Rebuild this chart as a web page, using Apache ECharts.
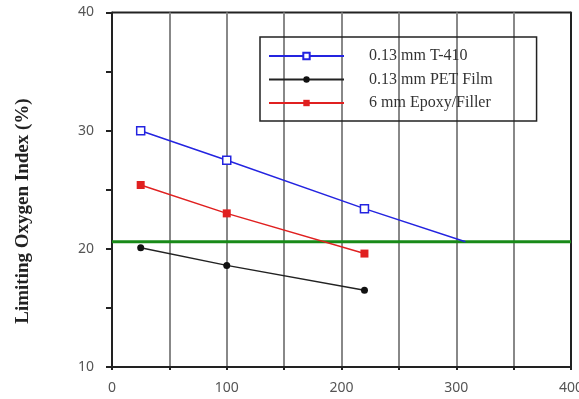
<!DOCTYPE html>
<html>
<head>
<meta charset="utf-8">
<script src="https://cdn.jsdelivr.net/npm/echarts@6/dist/echarts.min.js"></script>
<style>
  html, body { margin: 0; padding: 0; background: #fff; }
  #chart { width: 579px; height: 399px; }
</style>
</head>
<body>
<div id="chart"></div>
<script>
// Sample values on the horizontal axis
var xValues = [25, 100, 220];
// Limiting oxygen index (%) per material
var t410Values = [30.0, 27.5, 23.4];
var petValues = [20.1, 18.6, 16.5];
var epoxyValues = [25.4, 23.0, 19.6];
// Extension of the T-410 trend down to the ambient oxygen level
var t410Extension = [308, 20.6];
// Ambient oxygen level (%)
var ambientLevel = 20.6;
var seriesNames = ['0.13 mm T-410', '0.13 mm PET Film', '6 mm Epoxy/Filler'];
var yTitle = 'Limiting Oxygen Index (%)';

function pairs(xs, ys) {
  return xs.map(function (x, i) { return [x, ys[i]]; });
}

var t410Data = pairs(xValues, t410Values);
t410Data.push({ value: t410Extension, symbol: 'none' });

var chart = echarts.init(document.getElementById('chart'));
var serif = '"Liberation Serif", "Times New Roman", serif';
var sans = '"Noto Sans", "DejaVu Sans", sans-serif';

chart.setOption({
  animation: false,
  grid: { left: 112, right: 8, top: 12.5, bottom: 32, show: false, outerBoundsMode: 'none', containLabel: false },
  legend: {
    orient: 'vertical',
    left: 260,
    top: 37,
    data: seriesNames,
    itemWidth: 75,
    itemHeight: 8,
    itemGap: 7.5,
    padding: [11, 44, 10, 8],
    borderColor: '#222',
    borderWidth: 1.5,
    textStyle: { fontFamily: serif, fontSize: 16, color: '#333', padding: [0, 0, 0, 20] }
  },
  xAxis: {
    type: 'value',
    min: 0,
    max: 400,
    interval: 50,
    axisLine: { lineStyle: { color: '#222', width: 2 } },
    axisTick: { show: true, length: 3, lineStyle: { color: '#222', width: 2 } },
    splitLine: { show: true, lineStyle: { color: '#888', width: 2 } },
    axisLabel: {
      fontFamily: sans, fontSize: 14, color: '#555', margin: 14,
      formatter: function (v) { return v % 100 === 0 ? String(v) : ''; }
    }
  },
  yAxis: [{
    type: 'value',
    min: 10,
    max: 40,
    interval: 5,
    axisLine: { show: true, lineStyle: { color: '#222', width: 2 } },
    axisTick: { show: true, length: 6, lineStyle: { color: '#222', width: 2 } },
    splitLine: { show: false },
    axisLabel: {
      fontFamily: sans, fontSize: 14, color: '#555', margin: 18,
      formatter: function (v) { return v % 10 === 0 ? String(v) : ''; }
    }
  }, {
    type: 'value',
    min: 10,
    max: 40,
    position: 'right',
    axisLine: { show: true, lineStyle: { color: '#222', width: 2 } },
    axisTick: { show: false },
    axisLabel: { show: false },
    splitLine: { show: false }
  }],
  series: [
    {
      name: seriesNames[0],
      type: 'line',
      data: t410Data,
      symbol: 'rect',
      symbolSize: 8,
      color: '#2424e0',
      lineStyle: { color: '#2424e0', width: 1.5 },
      itemStyle: { color: '#fff', borderColor: '#2424e0', borderWidth: 1.5 },
      z: 4
    },
    {
      name: seriesNames[1],
      type: 'line',
      data: pairs(xValues, petValues),
      symbol: 'circle',
      symbolSize: 7,
      color: '#111',
      lineStyle: { color: '#222', width: 1.5 },
      itemStyle: { color: '#111' },
      z: 4
    },
    {
      name: seriesNames[2],
      type: 'line',
      data: pairs(xValues, epoxyValues),
      symbol: 'rect',
      symbolSize: 8,
      color: '#e02020',
      lineStyle: { color: '#e02020', width: 1.5 },
      itemStyle: { color: '#e02020' },
      z: 4
    },
    {
      name: 'ambient',
      type: 'line',
      data: [[0, ambientLevel], [400, ambientLevel]],
      symbol: 'none',
      lineStyle: { color: '#188a18', width: 3 },
      z: 3
    }
  ],
  graphic: [{
    type: 'line',
    shape: { x1: 112, y1: 12.5, x2: 571, y2: 12.5 },
    style: { stroke: '#222', lineWidth: 2 }
  }, {
    type: 'text',
    x: 23,
    y: 211,
    rotation: Math.PI / 2,
    style: {
      text: yTitle,
      fontFamily: serif,
      fontSize: 19,
      fontWeight: 'bold',
      fill: '#222',
      align: 'center',
      verticalAlign: 'middle'
    }
  }]
});
</script>
</body>
</html>
